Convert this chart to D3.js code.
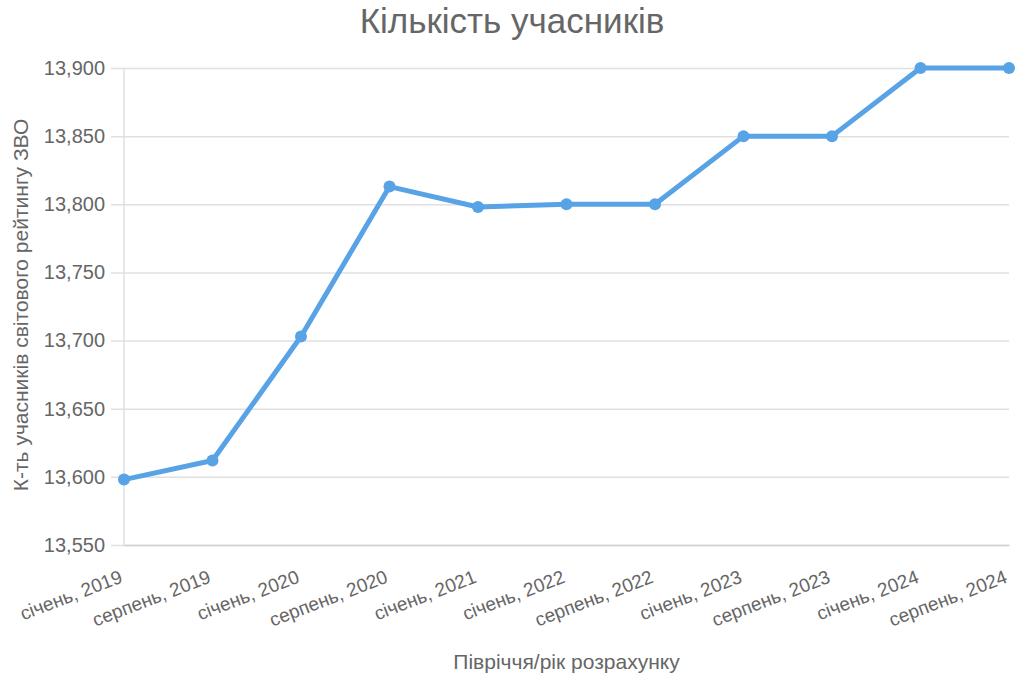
<!DOCTYPE html>
<html>
<head>
<meta charset="utf-8">
<script src="https://cdn.jsdelivr.net/npm/d3@7"></script>
<style>
  body { margin: 0; background: #fff; }
  text { font-family: "Liberation Sans", Arial, sans-serif; }
</style>
</head>
<body>
<div id="chart"></div>
<script>
// data
let periods = ['січень, 2019', 'серпень, 2019', 'січень, 2020', 'серпень, 2020', 'січень, 2021',
    'січень, 2022', 'серпень, 2022', 'січень, 2023', 'серпень, 2023', 'січень, 2024', 'серпень, 2024'];
let counts = [13598, 13612, 13703, 13813, 13798, 13800, 13800, 13850, 13850, 13900, 13900];
let yTicks = [13550, 13600, 13650, 13700, 13750, 13800, 13850, 13900];

let margin = {top: 68, right: 15, bottom: 138, left: 124};
let width = 1024 - margin.left - margin.right;
let height = 683 - margin.top - margin.bottom;

let svg = d3.select('#chart')
    .append('svg')
    .attr('width', 1024)
    .attr('height', 683);

let g = svg.append('g').attr('transform', 'translate(' + margin.left + ',' + margin.top + ')');

//Title
svg.append('text')
    .attr('x', 512)
    .attr('y', 33)
    .attr('text-anchor', 'middle')
    .attr('font-size', '35px')
    .attr('fill', '#666')
    .text('Кількість учасників');

//Y Axis Text
svg.append('text')
    .attr('x', -305)
    .attr('y', 28)
    .attr('text-anchor', 'middle')
    .attr('font-size', '21px')
    .attr('fill', '#666')
    .attr('transform', 'rotate(-90)')
    .text('К-ть учасників світового рейтингу ЗВО');

//X Axis Text
g.append('text')
    .attr('x', width / 2)
    .attr('y', height + 124)
    .attr('text-anchor', 'middle')
    .attr('font-size', '21px')
    .attr('fill', '#666')
    .text('Півріччя/рік розрахунку');

//Scales
let x = d3.scalePoint().domain(periods).range([0, width]);
let y = d3.scaleLinear().domain([13550, 13900]).range([height, 0]);

//Y Axis with grid
let yAxisCall = d3.axisLeft(y).tickValues(yTicks).tickFormat(d3.format(',')).tickSize(width + 13).tickPadding(6);
let yAxis = g.append('g').attr('transform', 'translate(' + width + ',0)').call(yAxisCall);
yAxis.select('.domain').remove();
yAxis.selectAll('.tick line').attr('stroke', '#e0e0e0').attr('stroke-width', 1.5);
yAxis.selectAll('.tick text').attr('font-size', '20px').attr('fill', '#666');

//vertical axis line
g.append('line')
    .attr('x1', 0).attr('x2', 0)
    .attr('y1', 0).attr('y2', height)
    .attr('stroke', '#e0e0e0')
    .attr('stroke-width', 1.5);

//X Axis
let xAxisCall = d3.axisBottom(x).tickSize(0).tickPadding(0);
let xAxis = g.append('g').attr('transform', 'translate(0,' + height + ')').call(xAxisCall);
xAxis.select('.domain').attr('stroke', '#d0d0d0').attr('stroke-width', 1.5);
xAxis.selectAll('.tick text')
    .attr('font-size', '19px')
    .attr('fill', '#666')
    .attr('text-anchor', 'end')
    .attr('dy', 0)
    .attr('transform', 'translate(-1,37) rotate(-21)');

//Line
let line = d3.line()
    .x(function (d, i) { return x(periods[i]); })
    .y(function (d) { return y(d); });

g.append('path')
    .datum(counts)
    .attr('fill', 'none')
    .attr('stroke', '#58a2e6')
    .attr('stroke-width', 5)
    .attr('stroke-linejoin', 'round')
    .attr('d', line);

g.selectAll('circle')
    .data(counts)
    .enter()
    .append('circle')
    .attr('cx', function (d, i) { return x(periods[i]); })
    .attr('cy', function (d) { return y(d); })
    .attr('r', 6)
    .attr('fill', '#58a2e6');
</script>
</body>
</html>
